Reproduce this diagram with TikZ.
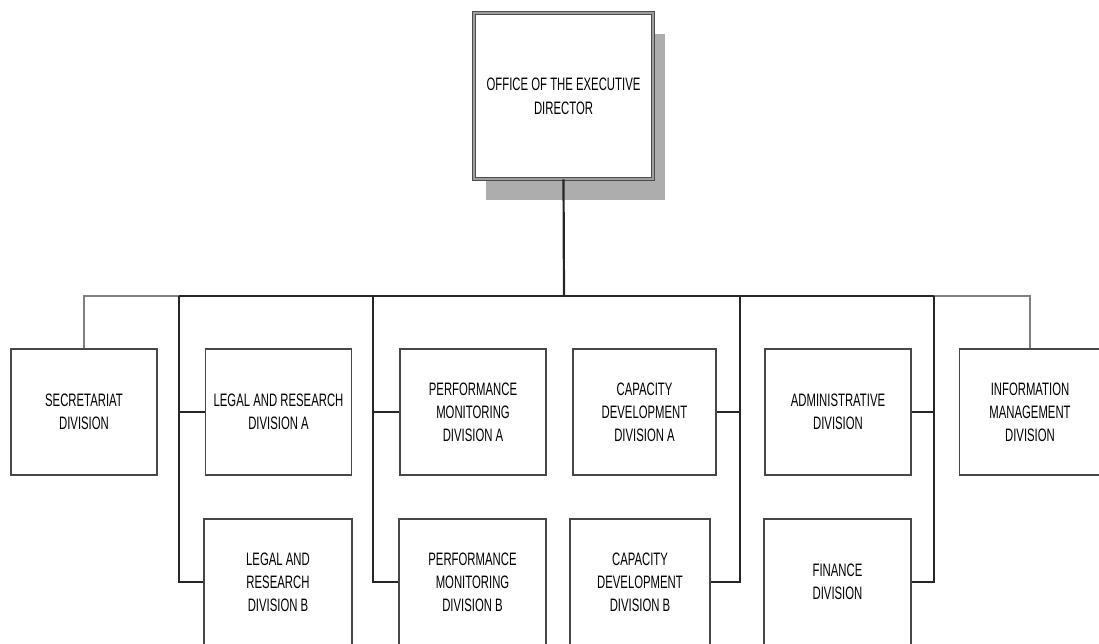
\documentclass[tikz,border=0pt]{standalone}
\usepackage{fontspec}
\setmainfont{Liberation Sans}
\newfontfamily\orgfont[FakeStretch=0.63]{Liberation Sans}
\usetikzlibrary{shadows}
\colorlet{bx}{black!72}
\colorlet{ln}{black!85}
\colorlet{lg}{black!50}
\tikzset{
  dv/.style={
    draw=bx, fill=white, line width=1.5pt, inner sep=0pt,
    align=center, font=\orgfont\fontsize{18}{23}\selectfont,
    minimum width=#1, minimum height=126pt
  },
  dv/.default=146pt,
  ed/.style={
    draw=black!70, double=black!38, double distance=2.4pt, line width=0.9pt,
    fill=white, inner sep=0pt, align=center,
    font=\orgfont\fontsize{18}{24}\selectfont,
    minimum width=179pt, minimum height=166pt,
    drop shadow={shadow xshift=12pt, shadow yshift=-21pt,
                 fill=black!32, opacity=1}
  },
  cn/.style={draw=ln, line width=1.5pt},
  bus/.style={draw=ln, line width=2.2pt},
  gbus/.style={draw=lg, line width=1.8pt},
}

\begin{document}
\begin{tikzpicture}[x=1pt, y=-1pt]

\clip (0,0) rectangle (1099,643);

%% ============================================================
%% TOP
%% ============================================================
\node[ed] (ed) at (563.5, 96) {OFFICE OF THE EXECUTIVE\\DIRECTOR};

%% bus junctions
\coordinate (jC)  at (564, 296);
\coordinate (jL)  at (179, 296);
\coordinate (jPL) at (373, 296);
\coordinate (jCR) at (740, 296);
\coordinate (jR)  at (934, 296);

%% ============================================================
%% DIVISIONS -- top row at y = 412, bottom row at y = 582
%% ============================================================
\node[dv] (sec) at (84, 412) {SECRETARIAT\\DIVISION};
\node[dv] (legA) at (278.5, 412) {LEGAL AND RESEARCH\\DIVISION A};
\node[dv] (perfA) at (473, 412) {PERFORMANCE\\MONITORING\\DIVISION A};
\node[dv=143pt] (capA) at (644.5, 412) {CAPACITY\\DEVELOPMENT\\DIVISION A};
\node[dv] (adm) at (838, 412) {ADMINISTRATIVE\\DIVISION};
\node[dv=141pt] (info) at (1030, 412) {INFORMATION\\MANAGEMENT\\DIVISION};

\node[dv=148pt] (legB) at (278, 582) {LEGAL AND\\RESEARCH\\DIVISION B};
\node[dv=147pt] (perfB) at (472.5, 582) {PERFORMANCE\\MONITORING\\DIVISION B};
\node[dv=140pt] (capB) at (640, 582) {CAPACITY\\DEVELOPMENT\\DIVISION B};
\node[dv=147pt] (fin) at (837.5, 582) {FINANCE\\DIVISION};

%% ============================================================
%% CONNECTORS
%% ============================================================
\draw[bus] (ed.south) -- (jC);
\draw[bus] (jL) -- (jR);
\draw[gbus] (jL) -| (sec.north);
\draw[gbus] (jR) -| (info.north);

\draw[cn] (jL) |- (legA.west);
\draw[cn] (jL) |- (legB.west);
\draw[cn] (jPL) |- (perfA.west);
\draw[cn] (jPL) |- (perfB.west);
\draw[cn] (jCR) |- (capA.east);
\draw[cn] (jCR) |- (capB.east);
\draw[cn] (jR) |- (adm.east);
\draw[cn] (jR) |- (fin.east);

\end{tikzpicture}
\end{document}
